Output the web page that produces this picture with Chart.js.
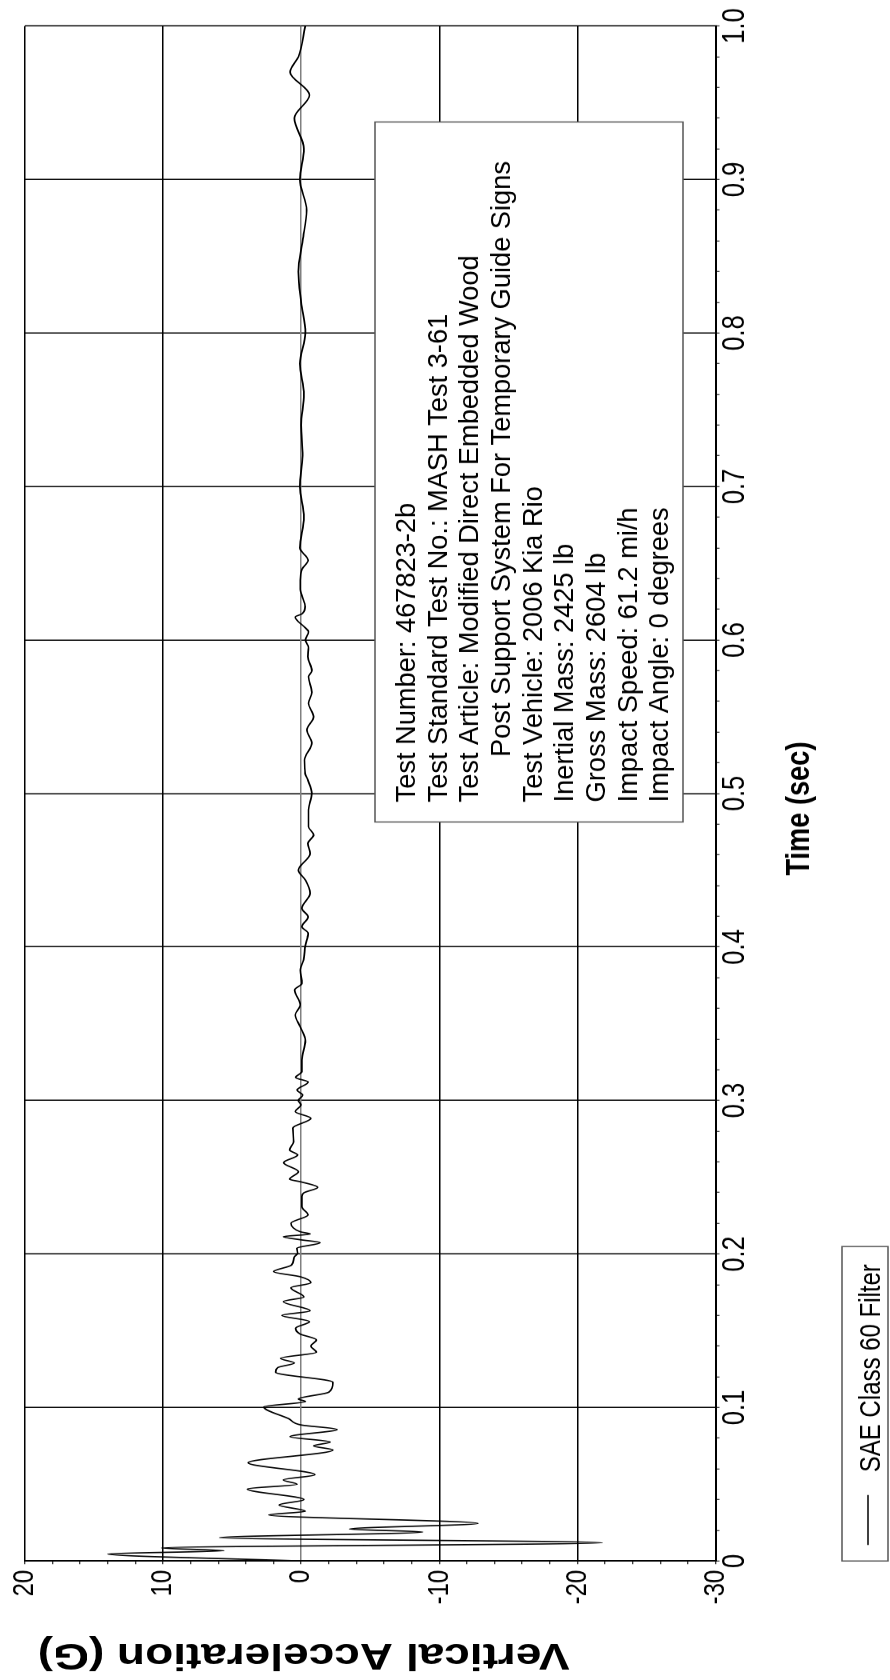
<!DOCTYPE html>
<html>
<head>
<meta charset="utf-8">
<script src="https://cdn.jsdelivr.net/npm/chart.js@4.4.0/dist/chart.umd.min.js"></script>
<style>
  html, body { margin: 0; padding: 0; background: #fff; }
  body { width: 890px; height: 1680px; overflow: hidden; position: relative; }
  /* chart is drawn landscape, then turned on its side and squeezed like the scan */
  #chart { position: absolute; left: 0; top: 0; transform-origin: 0 0;
    transform: translate(0, 1680px) rotate(-90deg) scaleX(0.8); }
</style>
</head>
<body>
<canvas id="chart" width="2100" height="890"></canvas>
<script>
const FONT = "'Liberation Sans', Arial, sans-serif";

// time (sec) and vertical acceleration (G)
const timeSec = [
  0.000, 0.0046, 0.0067, 0.0085, 0.0119, 0.0152, 0.0189, 0.0208, 0.0245, 0.0300,
  0.0324, 0.0365, 0.0400, 0.0469, 0.0500, 0.0528, 0.0562, 0.0640, 0.0723, 0.0750,
  0.0775, 0.0810, 0.0857, 0.0886, 0.0927, 0.1004, 0.1039, 0.1055, 0.1100, 0.1164,
  0.1230, 0.1260, 0.1290, 0.1320, 0.1360, 0.1400, 0.1440, 0.1480, 0.1516, 0.1560,
  0.1600, 0.1630, 0.1690, 0.1720, 0.1780, 0.1813, 0.1852, 0.1885, 0.1928, 0.1980,
  0.2004, 0.2037, 0.2074, 0.2093, 0.2113, 0.2130, 0.2145, 0.2200, 0.2255, 0.2308,
  0.2375, 0.2399, 0.2434, 0.2471, 0.2487, 0.2536, 0.2595, 0.2645, 0.2678, 0.2730,
  0.2820, 0.2884, 0.2928, 0.2971, 0.3000, 0.3036, 0.3068, 0.3120, 0.3150, 0.3188,
  0.3264, 0.3390, 0.3480, 0.3557, 0.3622, 0.3720, 0.3763, 0.3850, 0.3916, 0.4010,
  0.4090, 0.4132, 0.4196, 0.4252, 0.4350, 0.4437, 0.4500, 0.4610, 0.4675, 0.4730,
  0.4784, 0.4893, 0.5000, 0.5088, 0.5130, 0.5218, 0.5330, 0.5414, 0.5500, 0.5588,
  0.5660, 0.5761, 0.5800, 0.5891, 0.5950, 0.6000, 0.6054, 0.6080, 0.6150, 0.6170,
  0.6217, 0.6290, 0.6330, 0.6390, 0.6460, 0.6520, 0.6600, 0.6800, 0.7000, 0.7200,
  0.7400, 0.7600, 0.7800, 0.8000, 0.8200, 0.8400, 0.8600, 0.8800, 0.9000, 0.9200,
  0.9400, 0.9550, 0.9700, 0.9800, 1.0000
];
const verticalG = [
  0.0, 14.0, 5.6, 10.1, -21.8, 5.9, -8.8, -3.5, -12.8, 2.35,
  -0.3, 1.6, -0.2, 3.9, 0.3, 1.3, -1.0, 3.84, -2.3, -0.9,
  -2.1, 0.8, -2.6, 0.0, 0.9, 2.7, -0.3, 0.2, -2.0, -2.3,
  1.85, 1.7, 0.5, 1.5, -1.1, -0.7, -1.1, 0.1, 0.4, -0.6,
  1.4, -0.65, 1.3, -0.2, 0.75, -0.7, 0.07, 2.0, 0.7, 0.5,
  0.26, 0.31, -1.37, 0.07, 1.3, -0.65, 0.07, 0.74, -0.5, -0.05,
  -0.05, -0.2, -1.2, 0.07, 0.84, 0.2, 1.27, 0.26, 0.84, 0.55,
  0.6, -0.7, 0.43, 0.02, 0.2, -0.1, 0.3, -0.5, 0.4, -0.05,
  -0.05, -0.3, 0.07, 0.43, 0.07, 0.48, -0.05, 0.07, -0.17, -0.3,
  -0.5, -0.05, -0.5, -0.05, -0.65, -0.3, 0.2, -0.65, -0.48, -0.9,
  -0.53, -0.53, -0.77, -0.48, -0.29, -0.24, -0.77, -0.41, -0.9, -0.53,
  -0.77, -0.53, -0.77, -0.48, -0.53, -0.3, -0.53, -0.29, 0.43, -0.05,
  -0.29, -0.05, 0.07, 0.07, -0.05, -0.5, 0.1, -0.2, 0.1, -0.1,
  0.0, -0.2, 0.1, -0.3, 0.0, 0.2, -0.1, -0.4, 0.1, -0.2,
  0.5, -0.6, 0.8, 0.2, -0.3
];

const seriesLabel = 'SAE Class 60 Filter';
const xTitle = 'Time (sec)';
const yTitle = 'Vertical Acceleration (G)';
const infoLines = [
  'Test Number: 467823-2b',
  'Test Standard Test No.: MASH Test 3-61',
  'Test Article: Modified Direct Embedded Wood',
  '      Post Support System For Temporary Guide Signs',
  'Test Vehicle: 2006 Kia Rio',
  'Inertial Mass: 2425 lb',
  'Gross Mass: 2604 lb',
  'Impact Speed: 61.2 mi/h',
  'Impact Angle: 0 degrees'
];

const whiteBg = {
  id: 'whiteBg',
  beforeDraw(chart) {
    const ctx = chart.ctx;
    ctx.save();
    ctx.fillStyle = '#fff';
    ctx.fillRect(0, 0, chart.width, chart.height);
    ctx.restore();
  }
};

// boxed test description inside the plot (its text is not squeezed like the axes)
const infoBox = {
  id: 'infoBox',
  afterDatasetsDraw(chart) {
    const ctx = chart.ctx;
    ctx.save();
    ctx.fillStyle = '#fff';
    ctx.fillRect(1072.5, 375, 875, 308);
    ctx.strokeStyle = '#555';
    ctx.lineWidth = 1.5;
    ctx.strokeRect(1072.5, 375, 875, 308);
    ctx.fillStyle = '#000';
    ctx.font = '27px ' + FONT;
    ctx.textBaseline = 'alphabetic';
    const stretch = 1.26;
    ctx.scale(stretch, 1);
    infoLines.forEach((line, i) => ctx.fillText(line, 1097 / stretch, 415 + i * 31.67));
    ctx.restore();
  }
};

// legend drawn as a framed box under the axis title
const legendBox = {
  id: 'legendBox',
  afterDraw(chart) {
    const ctx = chart.ctx;
    const left = chart.chartArea.left;
    ctx.save();
    ctx.font = '30px ' + FONT;
    const w = ctx.measureText(seriesLabel).width;
    ctx.strokeStyle = '#555';
    ctx.lineWidth = 1.5;
    ctx.strokeRect(left, 842, 111 + w + 22, 46);
    ctx.strokeStyle = '#000';
    ctx.lineWidth = 1.4;
    ctx.beginPath();
    ctx.moveTo(left + 20, 868);
    ctx.lineTo(left + 82.5, 868);
    ctx.stroke();
    ctx.fillStyle = '#000';
    ctx.fillText(seriesLabel, left + 111, 880);
    ctx.restore();
  }
};

const isMajorX = v => Math.round(v * 100) % 10 === 0;

new Chart(document.getElementById('chart'), {
  type: 'line',
  data: {
    datasets: [{
      label: seriesLabel,
      data: timeSec.map((t, i) => ({ x: t, y: verticalG[i] })),
      borderColor: '#000',
      borderWidth: 1.7,
      pointRadius: 0,
      fill: false,
      cubicInterpolationMode: 'monotone'
    }]
  },
  options: {
    responsive: false,
    animation: false,
    devicePixelRatio: 1,
    layout: { padding: { left: 0, top: 20, right: 32.5, bottom: 60 } },
    plugins: { legend: { display: false }, tooltip: { enabled: false } },
    scales: {
      x: {
        type: 'linear',
        min: 0,
        max: 1,
        ticks: {
          stepSize: 0.02,
          autoSkip: false,
          maxRotation: 0,
          minRotation: 0,
          padding: 0,
          color: '#000',
          font: { family: FONT, size: 32, lineHeight: 1 },
          callback: v => {
            if (!isMajorX(v)) return '';
            return Math.round(v * 100) === 0 ? '0' : (Math.round(v * 10) / 10).toFixed(1);
          }
        },
        grid: {
          color: c => isMajorX(c.tick.value) ? '#000' : 'rgba(0,0,0,0)',
          lineWidth: 1.5,
          tickColor: '#000',
          tickLength: 4,
          tickWidth: 1
        },
        border: { color: '#000', width: 2 },
        title: {
          display: true,
          text: xTitle + '    ',
          color: '#000',
          font: { family: FONT, size: 34, weight: 'bold' },
          padding: { top: 0, bottom: 10 }
        },
        afterFit(scale) { scale.height = 114.5; }
      },
      y: {
        min: -30,
        max: 20,
        ticks: {
          stepSize: 2,
          autoSkip: false,
          padding: 7,
          color: '#000',
          font: { family: FONT, size: 30 },
          callback: v => (v % 10 === 0 ? String(v) : '')
        },
        grid: {
          color: c => c.tick.value % 10 !== 0 ? 'rgba(0,0,0,0)' : (c.tick.value === 0 ? '#808080' : '#000'),
          lineWidth: 1.5,
          tickColor: '#000',
          tickLength: 4,
          tickWidth: 1
        },
        border: { color: '#000', width: 2 },
        title: {
          display: true,
          text: yTitle + ' ',
          align: 'end',
          color: '#000',
          font: { family: FONT, size: 46, weight: 'bold' },
          padding: { top: 5, bottom: 0 }
        },
        afterFit(scale) { scale.width = 148.75; }
      }
    }
  },
  plugins: [whiteBg, infoBox, legendBox]
});
</script>
</body>
</html>
